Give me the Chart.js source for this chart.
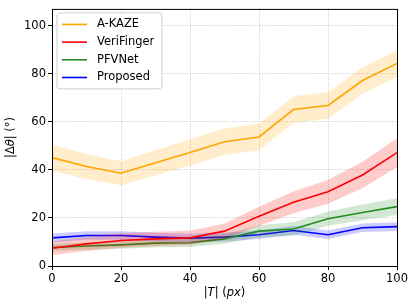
<!DOCTYPE html>
<html lang="en">
<head>
    <meta charset="UTF-8">
    <title>Orientation error</title>
    <style>
        body{
            margin: 0;
            padding: 0;
            background: #fff;
        }
        .chart{
            position: relative;
            width: 416px;
            height: 307px;
        }
    </style>
</head>
<body>
    <div class="chart">
        <canvas id="myChart" width="416" height="307"></canvas>
    </div>
    <script src="https://cdn.jsdelivr.net/npm/chart.js@4.4.0/dist/chart.umd.min.js"></script>
    <script>
// translation magnitude |T| in px
const xs = [0, 10, 20, 30, 40, 50, 60, 70, 80, 90, 100];
const xTicks = [0, 20, 40, 60, 80, 100];
const yTicks = [0, 20, 40, 60, 80, 100];

// mean |dtheta| and half band width
const akaze = [45.1, 41.4, 38.6, 43.0, 47.2, 51.7, 53.7, 65.1, 66.8, 77.2, 84.3];
const akazeSpread = [5.5, 5.2, 5.0, 5.2, 5.5, 5.5, 5.5, 5.5, 5.5, 5.5, 5.5];
const veri = [7.4, 9.2, 10.6, 11.3, 11.7, 14.5, 20.7, 26.5, 30.9, 37.9, 47.2];
const veriSpread = [2.8, 3.0, 3.0, 3.0, 3.0, 3.2, 4.0, 4.5, 5.0, 5.5, 6.0];
const pfv = [7.7, 8.3, 8.8, 9.5, 9.7, 11.3, 14.5, 15.4, 19.7, 22.3, 24.7];
const pfvSpread = [1.5, 1.5, 1.6, 1.7, 1.8, 2.0, 2.5, 2.8, 3.0, 3.3, 3.5];
const prop = [11.7, 12.7, 12.7, 12.0, 11.6, 12.0, 13.0, 14.8, 13.0, 15.9, 16.4];
const propSpread = [1.8, 1.8, 1.8, 1.8, 1.8, 1.8, 1.8, 1.8, 1.8, 1.8, 1.8];

const series = [
    {label: "A-KAZE", mean: akaze, spread: akazeSpread, color: "#ffa500", band: "rgba(255,165,0,0.2)"},
    {label: "VeriFinger", mean: veri, spread: veriSpread, color: "#ff0000", band: "rgba(255,0,0,0.2)"},
    {label: "PFVNet", mean: pfv, spread: pfvSpread, color: "#228b22", band: "rgba(34,139,34,0.2)"},
    {label: "Proposed", mean: prop, spread: propSpread, color: "#0000ff", band: "rgba(0,0,255,0.2)"},
];

// axis titles as [text, italic] pieces
const xTitle = [["|", false], ["T", true], ["| (", false], ["px", true], [")", false]];
const yTitle = [["|Δ", false], ["θ", true], ["| (°)", false]];

const FONT = "DejaVu Sans";
const pts = (arr) => arr.map((v, i) => ({x: xs[i], y: v}));

const datasets = [];
series.forEach((s) => {
    datasets.push({
        label: "_lo",
        data: pts(s.mean.map((v, i) => v - s.spread[i])),
        borderWidth: 0,
        pointRadius: 0,
        fill: false,
    });
    datasets.push({
        label: "_hi",
        data: pts(s.mean.map((v, i) => v + s.spread[i])),
        borderWidth: 0,
        pointRadius: 0,
        backgroundColor: s.band,
        fill: "-1",
    });
    datasets.push({
        label: s.label,
        data: pts(s.mean),
        borderColor: s.color,
        borderWidth: 1.6,
        pointRadius: 0,
        fill: false,
    });
});

function drawPieces(ctx, pieces, cx, cy) {
    const fontOf = (it) => (it ? "italic " : "") + "11.5px '" + FONT + "'";
    let total = 0;
    pieces.forEach(([t, it]) => { ctx.font = fontOf(it); total += ctx.measureText(t).width; });
    let x = cx - total / 2;
    ctx.textAlign = "left";
    ctx.textBaseline = "middle";
    pieces.forEach(([t, it]) => {
        ctx.font = fontOf(it);
        ctx.fillText(t, x, cy);
        x += ctx.measureText(t).width;
    });
}

// frame, axis titles and legend box like matplotlib
const framePlugin = {
    id: "frame",
    afterDraw(chart) {
        const {ctx, chartArea: a} = chart;
        ctx.save();
        ctx.strokeStyle = "#000";
        ctx.lineWidth = 1;
        ctx.strokeRect(a.left + 0.5, a.top + 0.5, a.right - a.left, a.bottom - a.top);

        ctx.fillStyle = "#000";
        drawPieces(ctx, xTitle, (a.left + a.right) / 2, 293);
        ctx.save();
        ctx.translate(11, (a.top + a.bottom) / 2);
        ctx.rotate(-Math.PI / 2);
        drawPieces(ctx, yTitle, 0, 0);
        ctx.restore();

        // legend
        const x0 = a.left + 5, y0 = a.top + 4, w = 105, h = 76, r = 3;
        ctx.beginPath();
        ctx.moveTo(x0 + r, y0);
        ctx.arcTo(x0 + w, y0, x0 + w, y0 + h, r);
        ctx.arcTo(x0 + w, y0 + h, x0, y0 + h, r);
        ctx.arcTo(x0, y0 + h, x0, y0, r);
        ctx.arcTo(x0, y0, x0 + w, y0, r);
        ctx.closePath();
        ctx.fillStyle = "rgba(255,255,255,0.8)";
        ctx.fill();
        ctx.strokeStyle = "#d0d0d0";
        ctx.lineWidth = 1;
        ctx.stroke();
        ctx.font = "11.5px '" + FONT + "'";
        ctx.textAlign = "left";
        ctx.textBaseline = "middle";
        series.forEach((s, i) => {
            const yy = y0 + 11.5 + i * 17.7;
            ctx.strokeStyle = s.color;
            ctx.lineWidth = 1.6;
            ctx.beginPath();
            ctx.moveTo(x0 + 5, yy);
            ctx.lineTo(x0 + 30, yy);
            ctx.stroke();
            ctx.fillStyle = "#000";
            ctx.fillText(s.label, x0 + 40, yy);
        });
        ctx.restore();
    }
};

const ctx = document.getElementById("myChart").getContext("2d");

const config = {
    type: "line",
    data: {datasets: datasets},
    plugins: [framePlugin],
    options: {
        responsive: false,
        animation: false,
        layout: {padding: {top: 7, right: 19, left: 0, bottom: 0}},
        plugins: {
            legend: {display: false},
            tooltip: {enabled: false},
        },
        scales: {
            x: {
                type: "linear",
                min: 0,
                max: 100,
                afterBuildTicks: (scale) => { scale.ticks = xTicks.map(v => ({value: v})); },
                afterFit: (scale) => { scale.height = 41; },
                grid: {color: "#c8c8c8", tickColor: "#000", tickLength: 4},
                border: {display: false, dash: [1, 1.5]},
                ticks: {color: "#000", font: {family: FONT, size: 11.5}, padding: 2, maxRotation: 0},
            },
            y: {
                min: 0,
                max: 107,
                afterBuildTicks: (scale) => { scale.ticks = yTicks.map(v => ({value: v})); },
                afterFit: (scale) => { scale.width = 52; },
                grid: {color: "#c8c8c8", tickColor: "#000", tickLength: 4},
                border: {display: false, dash: [1, 1.5]},
                ticks: {color: "#000", font: {family: FONT, size: 11.5}, padding: 2},
            },
        },
    },
};

const myChart = new Chart(ctx, config);
    </script>
</body>
</html>
